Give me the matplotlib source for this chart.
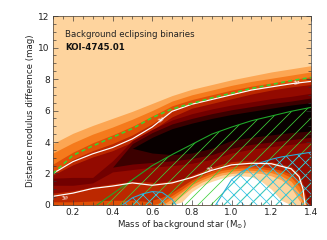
import numpy as np
import matplotlib
matplotlib.use("Agg")
import matplotlib.pyplot as plt
from matplotlib.ticker import MultipleLocator

# mass grid (M_sun) for the upper colour bands
mass = [0.1, 0.2, 0.3, 0.4, 0.5, 0.6, 0.7, 0.8, 0.9, 1.0, 1.1, 1.2, 1.3, 1.4]

# upper edges of the shaded bands (mag)
edge_peach = [3.9, 4.55, 5.05, 5.5, 5.95, 6.45, 6.95, 7.35, 7.65, 7.95, 8.2, 8.45, 8.65, 8.85]
edge_lorange = [3.3, 3.95, 4.5, 4.95, 5.45, 6.0, 6.6, 7.0, 7.3, 7.6, 7.85, 8.05, 8.25, 8.45]
edge_orange = [2.6, 3.35, 3.95, 4.45, 5.0, 5.65, 6.3, 6.7, 7.0, 7.3, 7.55, 7.75, 7.95, 8.15]
edge_dorange = [2.05, 2.9, 3.45, 3.9, 4.45, 5.15, 6.0, 6.45, 6.75, 7.05, 7.35, 7.55, 7.75, 7.95]
edge_red = [1.9, 2.55, 3.05, 3.45, 4.0, 4.75, 5.6, 6.15, 6.45, 6.75, 7.05, 7.3, 7.5, 7.65]
red_lo = [0.2, 0.2, 0.25, 0.3, 0.3, 0.2, 0, 0, 0, 0, 0, 0, 0, 0]
dred_lo = [0.75, 0.9, 1.15, 1.35, 1.5, 1.45, 0, 0, 0, 0, 0, 0, 0, 0]
darker_lo = [1.25, 1.25, 1.4, 2.1, 2.25, 2.4, 2.5, 2.65, 2.9, 3.3, 3.55, 3.7, 3.85, 4.0]
darker_hi = [1.7, 1.75, 1.75, 2.8, 4.1, 4.8, 5.4, 5.8, 6.1, 6.35, 6.55, 6.75, 6.9, 7.1]
nan = np.nan
vdark_lo = [nan, nan, nan, 2.4, 2.6, 2.7, 2.8, 2.95, 3.2, 3.6, 3.85, 4.0, 4.15, 4.3]
vdark_hi = [nan, nan, nan, 2.4, 3.9, 4.6, 5.15, 5.5, 5.8, 6.05, 6.25, 6.45, 6.6, 6.8]
black_lo = [nan, nan, nan, nan, 3.6, 3.3, 3.2, 3.3, 3.6, 4.1, 4.3, 4.45, 4.6, 4.7]
black_hi = [nan, nan, nan, nan, 3.6, 4.3, 4.85, 5.2, 5.5, 5.75, 5.95, 6.15, 6.35, 6.5]

# light blob at the bottom
mass_blob = [0.6, 0.65, 0.7, 0.75, 0.8, 0.85, 0.9, 0.95, 1.0, 1.05, 1.1, 1.15,
             1.2, 1.25, 1.3, 1.34, 1.36, 1.38, 1.4]
blob_red = [1.4, 1.45, 1.55, 1.65, 1.9, 2.15, 2.4, 2.6, 2.75, 2.8, 2.8, 2.8,
            2.75, 2.6, 2.45, 2.0, 1.3, 0.2, 0]
blob_dorange = [0.3, 0.5, 0.8, 1.2, 1.6, 1.9, 2.15, 2.35, 2.45, 2.5, 2.5, 2.45,
                2.35, 2.2, 1.95, 1.5, 0.9, 0, 0]
blob_orange = [0, 0.2, 0.6, 1.0, 1.45, 1.75, 2.0, 2.2, 2.3, 2.35, 2.35, 2.3,
               2.2, 2.05, 1.75, 1.2, 0.5, 0, 0]
blob_lorange = [0, 0, 0.4, 0.85, 1.3, 1.6, 1.85, 2.05, 2.15, 2.2, 2.2, 2.15,
                2.05, 1.85, 1.5, 0.8, 0, 0, 0]
blob_peach = [0, 0, 0.1, 0.6, 1.1, 1.45, 1.7, 1.9, 2.0, 2.05, 2.05, 2.0,
              1.85, 1.6, 1.1, 0.3, 0, 0, 0]
blob_white = [0, 0, 0, 0.2, 0.85, 1.25, 1.5, 1.7, 1.85, 1.85, 1.8, 1.5,
              1.0, 0.3, 0, 0, 0, 0, 0]

# 3 sigma contours and constraints
sig_up = [2.0, 2.75, 3.25, 3.65, 4.2, 4.95, 5.95, 6.4, 6.7, 7.0, 7.3, 7.5, 7.7, 7.85]
sig_lo_m = [0.1, 0.1, 0.2, 0.3, 0.4, 0.5, 0.6, 0.7, 0.8, 0.9, 1.0, 1.1, 1.2,
            1.3, 1.34, 1.36, 1.37]
sig_lo = [0.35, 0.55, 0.75, 1.05, 1.2, 1.4, 1.25, 1.4, 1.75, 2.2, 2.55, 2.65,
          2.62, 2.3, 1.8, 1.0, 0.0]
dashed_lim = [2.0, 3.15, 3.75, 4.3, 4.85, 5.55, 6.1, 6.45, 6.8, 7.1, 7.4, 7.65, 7.9, 8.1]
green_m = [0.3, 0.4, 0.5, 0.6, 0.7, 0.8, 0.9, 1.0, 1.1, 1.2, 1.3, 1.4]
green_lim = [-0.2, 0.7, 1.6, 2.5, 3.2, 3.85, 4.5, 4.95, 5.35, 5.65, 5.95, 6.2]
cyan1_m = [0.45, 0.5, 0.55, 0.6, 0.65, 0.7, 0.72]
cyan1_lim = [0, 0.45, 0.7, 0.85, 0.8, 0.35, 0]
cyan2_m = [0.92, 0.95, 1.0, 1.05, 1.1, 1.15, 1.2, 1.25, 1.3, 1.35, 1.4]
cyan2_lim = [0, 0.6, 1.6, 2.1, 2.45, 2.7, 2.9, 3.05, 3.15, 3.25, 3.35]

c_peach = "#fed49e"
c_lorange = "#fca653"
c_orange = "#f57a1c"
c_dorange = "#e05006"
c_red = "#bc2800"
c_dred = "#930a00"
c_darker = "#720000"
c_vdark = "#3c0000"
c_black = "#080000"

plt.rcParams["font.family"] = "DejaVu Sans"
plt.rcParams["hatch.linewidth"] = 0.7

DPI = 78
fig = plt.figure(figsize=(327 / DPI, 240 / DPI), dpi=DPI)
ax = fig.add_axes([0.162, 0.146, 0.789, 0.787])
ax.set_facecolor(c_peach)

ax.fill_between(mass, 0, edge_peach, color=c_lorange, lw=0)
ax.fill_between(mass, 0, edge_lorange, color=c_orange, lw=0)
ax.fill_between(mass, 0, edge_orange, color=c_dorange, lw=0)
ax.fill_between(mass, red_lo, edge_dorange, color=c_red, lw=0)
ax.fill_between(mass, dred_lo, edge_red, color=c_dred, lw=0)
ax.fill_between(mass, darker_lo, darker_hi, color=c_darker, lw=0)
ax.fill_between(mass, vdark_lo, vdark_hi, color=c_vdark, lw=0)
ax.fill_between(mass, black_lo, black_hi, color=c_black, lw=0)

for top, col in [(blob_red, c_red), (blob_dorange, c_dorange), (blob_orange, c_orange),
                 (blob_lorange, c_lorange), (blob_peach, c_peach), (blob_white, "white")]:
    ax.fill_between(mass_blob, 0, top, color=col, lw=0)

# hatched regions
def hatched(xs, ys, col, pattern):
    px = np.concatenate([xs, xs[::-1]])
    py = np.concatenate([ys, np.full(len(ys), -1.0)])
    ax.fill(px, py, facecolor="none", edgecolor=col, hatch=pattern, lw=0)

hatched(np.array(green_m), np.array(green_lim), "#3fd13a", "//")
hatched(np.array(cyan1_m), np.array(cyan1_lim), "#35c3e8", "xx")
hatched(np.array(cyan2_m), np.array(cyan2_lim), "#35c3e8", "xx")
ax.plot(green_m, green_lim, color="#1fa82a", lw=1.0)
ax.plot(cyan1_m, cyan1_lim, color="#2aaed8", lw=1.0)
ax.plot(cyan2_m, cyan2_lim, color="#2aaed8", lw=1.0)

ax.plot(mass, sig_up, color="white", lw=1.1)
ax.plot(sig_lo_m, sig_lo, color="white", lw=1.1)
ax.plot(mass, dashed_lim, color="#39d42f", lw=1.5, ls=(0, (2.5, 2)))

lab = dict(color="white", fontsize=5.2, ha="center", va="center")
ax.text(0.645, 5.45, "3σ", rotation=38, **lab)
ax.text(1.33, 7.78, "3σ", rotation=12, **lab)
ax.text(0.16, 0.45, "3σ", rotation=8, **lab)
ax.text(0.89, 2.25, "3σ", rotation=25, **lab)

ax.text(0.16, 10.7, "Background eclipsing binaries", fontsize=8, color="#222222")
ax.text(0.16, 9.84, "KOI-4745.01", fontsize=8, fontweight="bold", color="#111111")

ax.set_xlim(0.1, 1.4)
ax.set_ylim(0, 12)
ax.xaxis.set_major_locator(MultipleLocator(0.2))
ax.xaxis.set_minor_locator(MultipleLocator(0.05))
ax.yaxis.set_major_locator(MultipleLocator(2))
ax.yaxis.set_minor_locator(MultipleLocator(0.5))
ax.tick_params(which="both", direction="in", top=True, right=True,
               colors="#333333", labelcolor="#222222", labelsize=8.3, width=0.6)
ax.tick_params(which="major", length=5, pad=3)
ax.tick_params(which="minor", length=2.5)
for s in ax.spines.values():
    s.set_linewidth(0.6)
    s.set_color("#333333")
ax.set_xlabel(r"Mass of background star (M$_{\odot}$)", fontsize=8, color="#222222", labelpad=1)
ax.set_ylabel("Distance modulus difference (mag)", fontsize=8, color="#222222", labelpad=3)

fig.savefig("out.png", dpi=DPI)
